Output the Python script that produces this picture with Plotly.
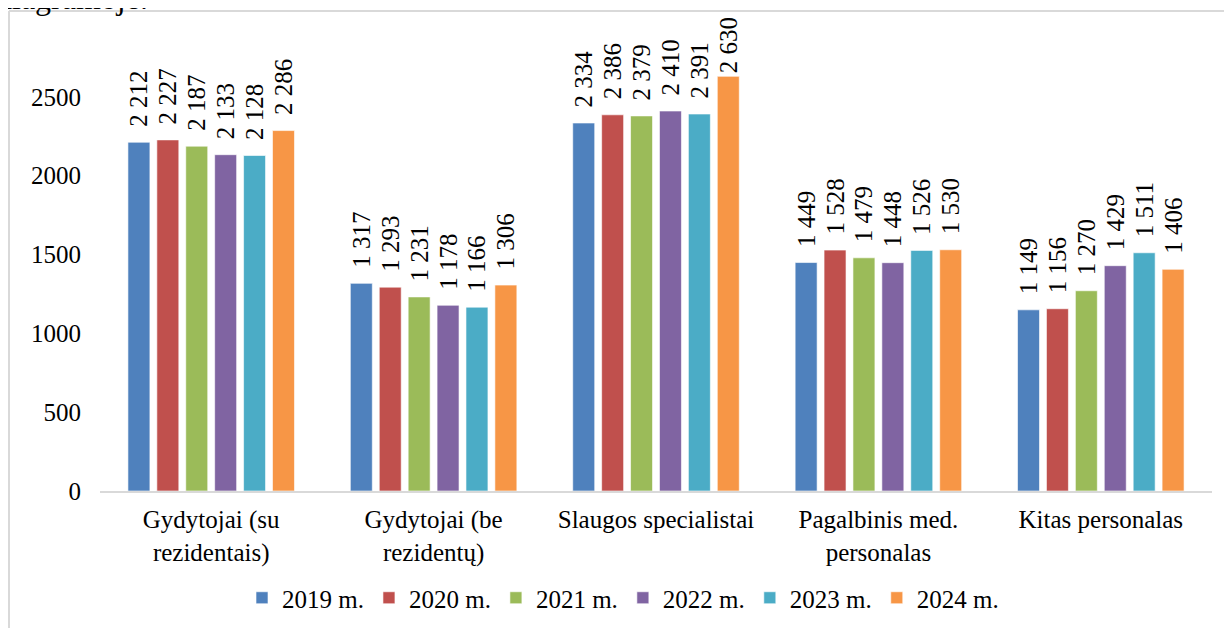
import plotly.graph_objects as go

categories = ["Gydytojai (su<br>rezidentais)", "Gydytojai (be<br>rezidentų)",
              "Slaugos specialistai", "Pagalbinis med.<br>personalas", "Kitas personalas"]
years = ["2019 m.", "2020 m.", "2021 m.", "2022 m.", "2023 m.", "2024 m."]
v2019 = [2212, 1317, 2334, 1449, 1149]
v2020 = [2227, 1293, 2386, 1528, 1156]
v2021 = [2187, 1231, 2379, 1479, 1270]
v2022 = [2133, 1178, 2410, 1448, 1429]
v2023 = [2128, 1166, 2391, 1526, 1511]
v2024 = [2286, 1306, 2630, 1530, 1406]
series = [v2019, v2020, v2021, v2022, v2023, v2024]
colors = ["#4F81BD", "#C0504D", "#9BBB59", "#8064A2", "#4BACC6", "#F79646"]
ytickvals = [0, 500, 1000, 1500, 2000, 2500]

FONT = "Liberation Serif"
OFF = 8  # page body margin
W, H = 1232 - OFF, 628 - OFF
ML, MR, MT, MB = 92, 20, 10, 137
NB = "\u00a0\u00a0"  # gap between bar end and its label


def label(v):
    s = f"{v:,}".replace(",", " ")
    # labels that would run past the chart top are kept tight against the bar
    return s if v > 2500 else NB + s


fig = go.Figure()
for name, vals, col in zip(years, series, colors):
    fig.add_trace(go.Bar(
        x=categories, y=vals, name=name,
        marker=dict(color=col, line=dict(color="rgba(255,255,255,0.6)", width=1)),
        text=[label(v) for v in vals], texttemplate="%{text}",
        textposition="outside", textangle=-90,
        constraintext="none",
        textfont=dict(family=FONT, size=25, color="#000000"),
        cliponaxis=False,
    ))

pw, ph = W - ML - MR, H - MT - MB
def px(x):  # page pixel -> paper
    return (x - OFF - ML) / pw
def py(y):
    return (H - MB - (y - OFF)) / ph

border = dict(color="#D9D9D9", width=2)
fig.add_shape(type="line", xref="paper", yref="paper",
              x0=px(9), y0=py(11), x1=px(1240), y1=py(11), line=border)
fig.add_shape(type="line", xref="paper", yref="paper",
              x0=px(9), y0=py(11), x1=px(9), y1=py(640), line=border)

fig.add_annotation(text="diagramoje.", xref="paper", yref="paper",
                   x=px(-6), y=py(18), xanchor="left", yanchor="bottom",
                   showarrow=False, font=dict(family=FONT, size=32, color="#000000"))

fig.update_layout(
    width=W, height=H,
    margin=dict(l=ML, r=MR, t=MT, b=MB, autoexpand=False),
    paper_bgcolor="white", plot_bgcolor="white",
    barmode="group", bargap=0.22, bargroupgap=0.24,
    font=dict(family=FONT, size=25, color="#000000"),
    showlegend=True,
    legend=dict(orientation="h", x=px(256 - 14), xanchor="left", y=py(598), yanchor="middle",
                font=dict(family=FONT, size=25, color="#000000"),
                itemwidth=30, traceorder="normal"),
    xaxis=dict(showline=True, linecolor="#D9D9D9", linewidth=2, ticks="",
               automargin=False, ticklabelstandoff=5,
               tickfont=dict(family=FONT, size=25, color="#000000"), showgrid=False),
    yaxis=dict(range=[0, 3000], tickvals=ytickvals, showgrid=False, zeroline=False,
               showline=False, ticks="", ticklabelstandoff=18, automargin=False,
               tickfont=dict(family=FONT, size=25, color="#000000")),
)

fig.write_html("out.html")
